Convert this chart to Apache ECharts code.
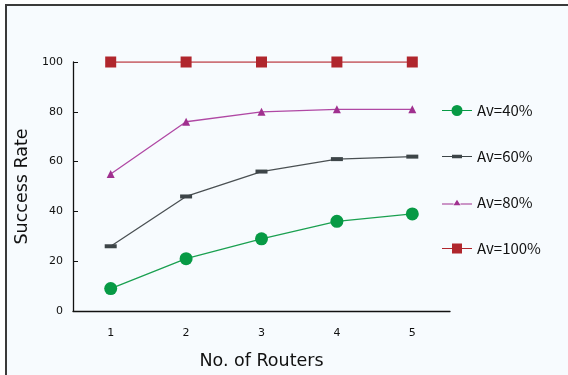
<!DOCTYPE html>
<html><head><meta charset="utf-8">
<script src="https://cdn.jsdelivr.net/npm/echarts@6/dist/echarts.min.js"></script>
<style>
html,body{margin:0;padding:0;background:#fff;}
#wrap{position:relative;width:568px;height:375px;overflow:hidden;}
#frame{position:absolute;left:5px;top:4px;width:700px;height:500px;border-left:2px solid #3a3a3a;border-top:2px solid #3a3a3a;background:#f7fbfe;}
#chart{position:absolute;left:0;top:0;width:568px;height:375px;}
</style></head>
<body><div id="wrap"><div id="frame"></div><div id="chart"></div></div>
<script>
const categories = ['1','2','3','4','5'];
const av40 = [9, 21, 29, 36, 39];
const av60 = [26, 46, 56, 61, 62];
const av80 = [55, 76, 80, 81, 81];
const av100 = [100, 100, 100, 100, 100];
const seriesNames = ['Av=40%','Av=60%','Av=80%','Av=100%'];

const font = 'DejaVu Sans';
const lgFont = 'Noto Sans CJK JP';
// legend icons: line segments + marker (30 wide)
const icons = [
  'path://M0,5.4H10V6.6H0Z M20,5.4H30V6.6H20Z M9.5,6A5.5,5.5 0 1 1 20.5,6A5.5,5.5 0 1 1 9.5,6Z',
  'path://M0,1.4H10V2.6H0Z M20,1.4H30V2.6H20Z M10,0.2H20V3.8H10Z',
  'path://M0,5.4H11.5V6.6H0Z M18.5,5.4H30V6.6H18.5Z M15,1.8L18.5,7.2L11.5,7.2Z',
  'path://M0,4.4H10V5.6H0Z M20,4.4H30V5.6H20Z M10,0H20V10H10Z'
];
const chart = echarts.init(document.getElementById('chart'), null, {renderer:'canvas'});
function mk(name, data, lineColor, symColor, symbol, size){
  return {name, type:'line', data, symbol, symbolSize:size, showAllSymbol:true,
    lineStyle:{color:lineColor,width:1.3}, itemStyle:{color:symColor, borderWidth:0}, emphasis:{disabled:true}, animation:false};
}
chart.setOption({
  animation:false,
  backgroundColor:'transparent',
  textStyle:{fontFamily:font},
  grid:{left:73,right:118,top:62,bottom:64,containLabel:false},
  legend:{orient:'vertical',left:437,top:98,itemGap:31,itemWidth:30,itemHeight:17,
    textStyle:{fontFamily:lgFont,fontSize:15,color:'#111'},
    data:seriesNames.map((n,i)=>({name:n,icon:icons[i]}))},
  xAxis:{type:'category',data:categories,boundaryGap:true,
    name:'No. of Routers',nameLocation:'middle',nameGap:41,
    nameTextStyle:{fontFamily:font,fontSize:17.5,color:'#111'},
    axisLine:{lineStyle:{color:'#111',width:1.3}},
    axisTick:{inside:true,length:5,lineStyle:{color:'#111'}},
    axisLabel:{color:'#111',fontSize:11,margin:17,fontFamily:font}},
  yAxis:{type:'value',min:0,max:100,interval:20,
    name:'Success Rate',nameLocation:'middle',nameGap:42,
    nameTextStyle:{fontFamily:font,fontSize:17.5,color:'#111'},
    axisLine:{show:true,lineStyle:{color:'#111',width:1.3}},
    axisTick:{show:true,inside:true,length:5,lineStyle:{color:'#111'}},
    splitLine:{show:false},
    axisLabel:{color:'#111',fontSize:11,margin:10,fontFamily:font}},
  series:[
    mk(seriesNames[0], av40, '#1aa050', '#079a45', 'circle', 13),
    mk(seriesNames[1], av60, '#4a5053', '#3d4548', 'rect', [12,4]),
    mk(seriesNames[2], av80, '#b048a4', '#a0308f', 'triangle', 8),
    mk(seriesNames[3], av100, '#c0474d', '#b0262d', 'rect', 11)
  ]
});
</script></body></html>
